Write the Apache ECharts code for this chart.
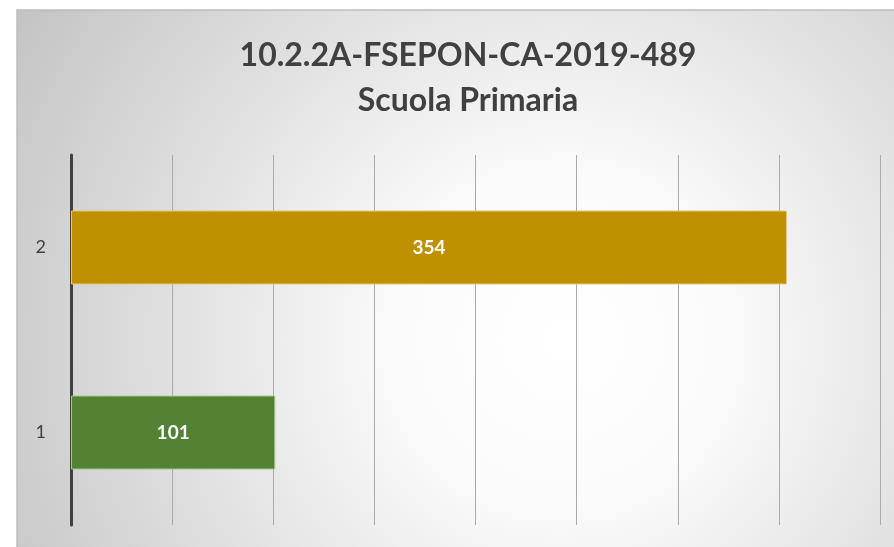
<!DOCTYPE html>
<html>
<head>
<meta charset="utf-8">
<script src="https://cdn.jsdelivr.net/npm/echarts@6/dist/echarts.min.js"></script>
<style>
html,body{margin:0;padding:0;background:#fff;}
#main{width:894px;height:547px;}
</style>
</head>
<body>
<div id="main"></div>
<script>
//数据
var categories = ['1', '2'];
var values = [101, 354];
var barColors = ['#548235', '#BF9000'];
var barEdges = ['#a8c48c', '#e2c878'];

var titleLines = ['10.2.2A-FSEPON-CA-2019-489', 'Scuola Primaria'];

var myChart = echarts.init(document.getElementById('main'));

var barData = [];
for (var i = 0; i < values.length; i++) {
	barData.push({
		value: values[i],
		itemStyle: { color: barColors[i], borderColor: barEdges[i], borderWidth: 1 }
	});
}

var option = {
	animation: false,
	graphic: [
		{
			type: 'rect',
			z: -10,
			silent: true,
			shape: { x: 17, y: 10, width: 893, height: 540 },
			style: {
				fill: new echarts.graphic.RadialGradient(0.61, 0.61, 1.2, [
					{ offset: 0, color: '#ffffff' },
					{ offset: 0.25, color: '#fbfbfb' },
					{ offset: 1, color: '#c2c2c2' }
				]),
				stroke: '#bdbdbd',
				lineWidth: 1.5
			}
		}
	],
	title: {
		text: titleLines.join('\n'),
		left: 463,
		top: 28,
		textAlign: 'center',
		textStyle: {
			fontFamily: 'Lato',
			fontWeight: 'bold',
			fontSize: 32,
			lineHeight: 45,
			color: '#404040'
		}
	},
	grid: {
		left: 71,
		right: 14,
		top: 155,
		bottom: 22
	},
	xAxis: {
		type: 'value',
		min: 0,
		max: 400,
		interval: 50,
		axisLabel: { show: false },
		axisLine: { show: false },
		axisTick: { show: false },
		splitLine: {
			show: true,
			lineStyle: { color: '#ababab', width: 1 }
		}
	},
	yAxis: {
		type: 'category',
		data: categories,
		axisLine: {
			show: true,
			lineStyle: { color: '#404040', width: 3 }
		},
		axisTick: { show: false },
		axisLabel: {
			margin: 25,
			color: '#404040',
			fontFamily: 'Lato',
			fontSize: 18
		}
	},
	series: [
		{
			type: 'bar',
			barWidth: '40%',
			data: barData,
			label: {
				show: true,
				position: 'inside',
				color: '#ffffff',
				fontFamily: 'Lato',
				fontWeight: 'bold',
				fontSize: 19
			}
		}
	]
};

myChart.setOption(option);
</script>
</body>
</html>
